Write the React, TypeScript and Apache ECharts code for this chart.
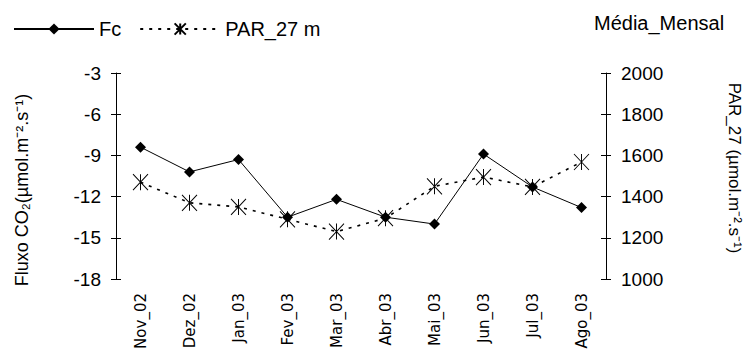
import React, { useEffect, useRef } from "react";
import * as echarts from "echarts";

const categories = ["Nov_02", "Dez_02", "Jan_03", "Fev_03", "Mar_03", "Abr_03", "Mai_03", "Jun_03", "Jul_03", "Ago_03"];
const fcValues = [-8.4, -10.2, -9.3, -13.5, -12.2, -13.5, -14.0, -8.9, -11.3, -12.8];
const parValues = [1470, 1370, 1350, 1290, 1230, 1295, 1450, 1495, 1447, 1568];
const leftTicks = { min: -18, max: -3, interval: 3 };
const rightTicks = { min: 1000, max: 2000, interval: 200 };

const FONT = "'Liberation Sans', Arial, sans-serif";
const STAR = "path://M0,0L10,10M10,0L0,10M5,0L5,10";

export default function App() {
  const ref = useRef<HTMLDivElement>(null);
  useEffect(() => {
    document.body.style.margin = "0";
    if (!ref.current) return;
    const chart = echarts.init(ref.current, null, { renderer: "svg" });
    const baseY = (pos: string, t: any, inside: boolean, main: boolean, margin: number) => ({
      type: "value",
      position: pos,
      min: t.min,
      max: t.max,
      interval: t.interval,
      axisLine: { show: main, lineStyle: { color: "#000", width: 1 } },
      axisTick: { show: true, inside, length: 5, lineStyle: { color: "#000", width: 1 } },
      axisLabel: {
        show: main,
        color: "#000",
        fontFamily: FONT,
        fontSize: 19,
        margin,
        formatter: (v: number) => String(v),
      },
      splitLine: { show: false },
    });
    chart.setOption({
      animation: false,
      backgroundColor: "#fff",
      grid: { left: 116, right: 142, top: 73, bottom: 75, containLabel: false },
      legend: {
        left: 8,
        top: 14,
        itemWidth: 80,
        itemHeight: 14,
        itemGap: 18,
        textStyle: { color: "#000", fontFamily: FONT, fontSize: 20 },
        data: ["Fc", "PAR_27 m"],
      },
      graphic: [
        {
          type: "text",
          x: 594,
          y: 23,
          style: { text: "Média_Mensal", font: `20px ${FONT}`, fill: "#000", verticalAlign: "middle" },
        },
        {
          type: "text",
          x: 22,
          y: 190,
          rotation: Math.PI / 2,
          style: {
            text: "Fluxo CO₂(µmol.m⁻².s⁻¹)",
            font: `18px ${FONT}`,
            fill: "#000",
            align: "center",
            verticalAlign: "middle",
          },
        },
        {
          type: "text",
          x: 734,
          y: 168,
          rotation: -Math.PI / 2,
          style: {
            text: "PAR_27 (µmol.m⁻².s⁻¹)",
            font: `17px ${FONT}`,
            fill: "#000",
            align: "center",
            verticalAlign: "middle",
          },
        },
      ],
      xAxis: {
        type: "category",
        data: categories,
        boundaryGap: true,
        axisLine: { show: false },
        axisTick: { show: false },
        axisLabel: {
          rotate: 90,
          margin: 14,
          color: "#000",
          fontFamily: "'DejaVu Sans', sans-serif",
          fontSize: 15,
          interval: 0,
        },
      },
      yAxis: [
        baseY("left", leftTicks, false, true, 15),
        baseY("right", rightTicks, false, true, 15),
        baseY("left", leftTicks, true, false, 15),
        baseY("right", rightTicks, true, false, 15),
      ],
      series: [
        {
          name: "Fc",
          type: "line",
          yAxisIndex: 0,
          data: fcValues,
          symbol: "diamond",
          symbolSize: 11,
          itemStyle: { color: "#000" },
          lineStyle: { color: "#000", width: 1 },
          z: 3,
        },
        {
          name: "PAR_27 m",
          type: "line",
          yAxisIndex: 1,
          data: parValues,
          symbol: STAR,
          symbolSize: [15, 16],
          itemStyle: { color: "#000", borderColor: "#000", borderWidth: 1 },
          lineStyle: { color: "#000", width: 1.6, type: [3, 6] },
          z: 2,
        },
      ],
    });
    return () => chart.dispose();
  }, []);
  return <div ref={ref} style={{ width: 748, height: 354 }} />;
}
